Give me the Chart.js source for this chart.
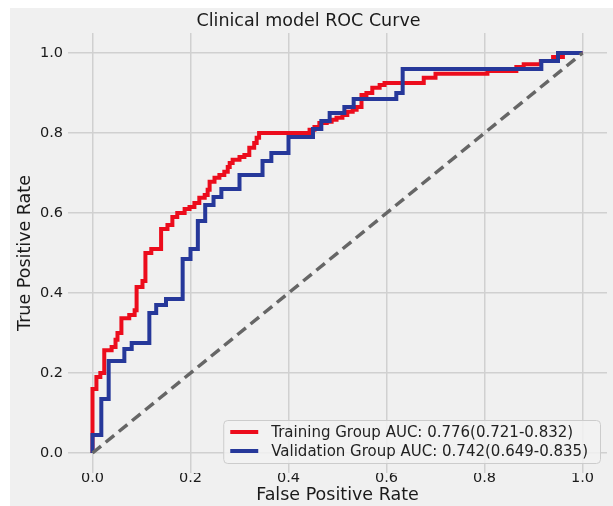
<!DOCTYPE html>
<html>
<head>
<meta charset="utf-8">
<script src="https://cdn.jsdelivr.net/npm/chart.js@4.4.1/dist/chart.umd.min.js"></script>
<style>
  html, body { margin: 0; padding: 0; background: #ffffff; }
  #wrap { position: absolute; left: 10px; top: 8px; width: 603px; height: 498px; background: #f0f0f0; }
  canvas { display: block; }
</style>
</head>
<body>
<div id="wrap"><canvas id="c" width="603" height="498"></canvas></div>
<script>
// ---- data (step corners: x = end of horizontal run, y = level) ----
const trainFpr = [0, 0.008, 0.016, 0.024, 0.039, 0.047, 0.051, 0.059, 0.075, 0.086, 0.09, 0.102, 0.108, 0.12, 0.14, 0.153, 0.163, 0.173, 0.188, 0.198, 0.208, 0.218, 0.229, 0.235, 0.239, 0.249, 0.259, 0.269, 0.276, 0.28, 0.286, 0.30, 0.31, 0.32, 0.33, 0.335, 0.34, 0.443, 0.453, 0.463, 0.478, 0.488, 0.498, 0.51, 0.52, 0.531, 0.539, 0.549, 0.559, 0.571, 0.586, 0.596, 0.676, 0.70, 0.806, 0.865, 0.88, 0.915, 0.94, 0.96, 1];
const trainTpr = [0, 0.16, 0.19, 0.20, 0.257, 0.265, 0.283, 0.30, 0.337, 0.345, 0.357, 0.415, 0.43, 0.50, 0.51, 0.56, 0.57, 0.59, 0.60, 0.61, 0.615, 0.625, 0.638, 0.645, 0.658, 0.678, 0.688, 0.695, 0.703, 0.715, 0.725, 0.733, 0.74, 0.745, 0.763, 0.775, 0.788, 0.80, 0.808, 0.815, 0.825, 0.828, 0.833, 0.838, 0.845, 0.853, 0.858, 0.865, 0.895, 0.90, 0.913, 0.92, 0.925, 0.938, 0.948, 0.955, 0.965, 0.972, 0.98, 0.99, 1];
const validFpr = [0, 0.018, 0.033, 0.065, 0.08, 0.116, 0.13, 0.15, 0.184, 0.2, 0.215, 0.23, 0.247, 0.263, 0.30, 0.347, 0.365, 0.40, 0.45, 0.467, 0.484, 0.514, 0.533, 0.62, 0.633, 0.916, 0.95, 1];
const validTpr = [0, 0.045, 0.135, 0.23, 0.26, 0.275, 0.35, 0.37, 0.385, 0.485, 0.51, 0.58, 0.62, 0.64, 0.66, 0.695, 0.73, 0.75, 0.79, 0.81, 0.83, 0.85, 0.865, 0.885, 0.90, 0.96, 0.98, 1];
const chanceFpr = [0, 1];
const chanceTpr = [0, 1];
const seriesLabels = ['Training Group AUC: 0.776(0.721-0.832)', 'Validation Group AUC: 0.742(0.649-0.835)'];
const xTicks = [0.0, 0.2, 0.4, 0.6, 0.8, 1.0];
const yTicks = [0.0, 0.2, 0.4, 0.6, 0.8, 1.0];
const titleText = 'Clinical model ROC Curve';
const xTitle = 'False Positive Rate';
const yTitle = 'True Positive Rate';

const pts = (xs, ys) => xs.map((x, i) => ({ x: x, y: ys[i] }));
const FONT = "'DejaVu Sans', sans-serif";

const legendPlugin = {
  id: 'boxLegend',
  afterDatasetsDraw(chart) {
    const ctx = chart.ctx;
    const ca = chart.chartArea;
    const items = chart.data.datasets.filter(d => d.label);
    ctx.save();
    ctx.font = "15px " + FONT;
    let tw = 0;
    items.forEach(d => { tw = Math.max(tw, ctx.measureText(d.label).width); });
    const right = ca.right - 7, bottom = ca.bottom - 10;
    const w = tw + 60, h = 43;
    const left = right - w, top = bottom - h;
    ctx.beginPath();
    if (ctx.roundRect) ctx.roundRect(left + 0.5, top + 0.5, w, h, 4); else ctx.rect(left + 0.5, top + 0.5, w, h);
    ctx.fillStyle = 'rgba(242,242,242,0.85)';
    ctx.fill();
    ctx.strokeStyle = '#cccccc';
    ctx.lineWidth = 1;
    ctx.stroke();
    items.forEach((d, i) => {
      const y = top + 12 + i * 19;
      ctx.beginPath();
      ctx.moveTo(left + 7, y);
      ctx.lineTo(left + 35, y);
      ctx.strokeStyle = d.borderColor;
      ctx.lineWidth = 4;
      ctx.stroke();
      ctx.fillStyle = '#222222';
      ctx.textBaseline = 'middle';
      ctx.textAlign = 'left';
      ctx.fillText(d.label, left + 48, y + 1);
    });
    ctx.restore();
  }
};

new Chart(document.getElementById('c'), {
  type: 'scatter',
  data: {
    datasets: [
      { label: seriesLabels[0], data: pts(trainFpr, trainTpr), showLine: true, stepped: 'after',
        borderColor: '#ec0c1c', borderWidth: 4, pointRadius: 0, order: 3, borderJoinStyle: 'miter' },
      { label: seriesLabels[1], data: pts(validFpr, validTpr), showLine: true, stepped: 'after',
        borderColor: '#26389a', borderWidth: 4, pointRadius: 0, order: 2, borderJoinStyle: 'miter' },
      { label: '', data: pts(chanceFpr, chanceTpr), showLine: true,
        borderColor: '#666666', borderWidth: 3.5, borderDash: [11, 6], pointRadius: 0, order: 1 }
    ]
  },
  options: {
    responsive: false,
    animation: false,
    events: [],
    layout: { padding: { left: 0, right: 6, top: 0, bottom: 0 } },
    plugins: {
      legend: { display: false },
      tooltip: { enabled: false },
      title: {
        display: true, text: titleText, color: '#1a1a1a',
        font: { family: FONT, size: 17.5, weight: 'normal' },
        padding: { top: 3, bottom: 1 }
      }
    },
    scales: {
      x: {
        type: 'linear', min: -0.05, max: 1.05,
        afterBuildTicks: (s) => { s.ticks = xTicks.map(v => ({ value: v })); },
        afterFit: (s) => { s.height = 33; },
        ticks: { color: '#1a1a1a', font: { family: FONT, size: 14.5 }, padding: -3, maxRotation: 0,
                 callback: (v) => v.toFixed(1) },
        grid: { color: '#d0d0d0', lineWidth: 1.5, drawTicks: false },
        border: { display: false },
        title: { display: true, text: xTitle, color: '#1a1a1a', font: { family: FONT, size: 17.5 }, padding: { top: 0, bottom: 0 } }
      },
      y: {
        type: 'linear', min: -0.05, max: 1.05,
        afterBuildTicks: (s) => { s.ticks = yTicks.map(v => ({ value: v })); },
        afterFit: (s) => { s.width = 58; },
        ticks: { color: '#1a1a1a', font: { family: FONT, size: 14.5 }, padding: 5,
                 callback: (v) => v.toFixed(1) },
        grid: { color: '#d0d0d0', lineWidth: 1.5, drawTicks: false },
        border: { display: false },
        title: { display: true, text: yTitle, color: '#1a1a1a', font: { family: FONT, size: 17.5 }, padding: { top: 4.5, bottom: 0 } }
      }
    }
  },
  plugins: [legendPlugin]
});
</script>
</body>
</html>
